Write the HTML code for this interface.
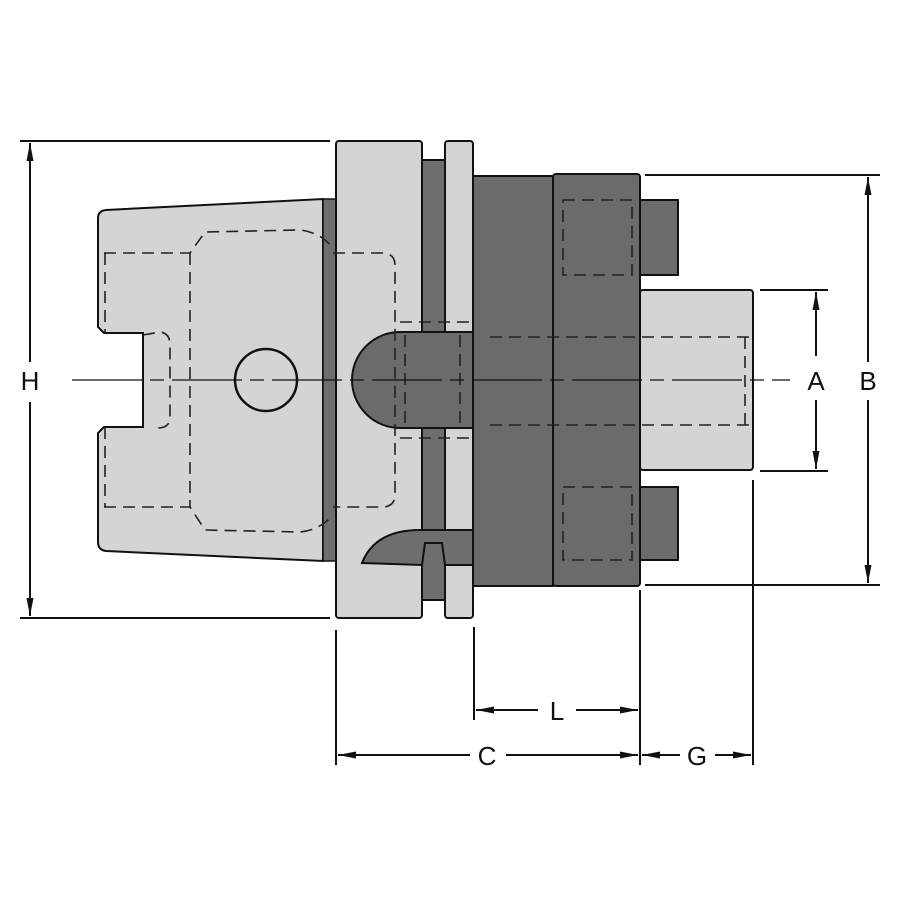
<!DOCTYPE html>
<html><head><meta charset="utf-8"><style>
html,body{margin:0;padding:0;background:#fff}
svg{display:block}
text{font-family:"Liberation Sans",sans-serif;font-size:26px;fill:#111}
</style></head><body>
<svg width="900" height="900" viewBox="0 0 900 900" xmlns="http://www.w3.org/2000/svg">
<defs>
<marker id="ar" markerWidth="18" markerHeight="8" refX="18" refY="4" orient="auto" markerUnits="userSpaceOnUse">
<path d="M0,0.5 L18,4 L0,7.5 Z" fill="#111"/></marker>
</defs>
<g stroke="#111" stroke-width="2">
<path d="M106,210 L323,199 L323,561 L106,551 Q98,550 98,542 L98,433 L104,427 L143,427 L143,333 L104,333 L98,327 L98,218 Q98,211 106,210 Z" fill="#d4d4d4"/>
<rect x="323" y="199" width="13" height="362" fill="#6e6e6e" stroke-width="1.5"/>
<rect x="336" y="141" width="86" height="477" rx="3" fill="#d4d4d4"/>
<rect x="422" y="160" width="24" height="440" fill="#6e6e6e"/>
<rect x="445" y="141" width="28" height="477" rx="3" fill="#d4d4d4"/>
<path d="M362,563 Q375,530 420,530 L473,530 L473,565 L445,565 L442,543 L425,543 L422,565 Z" fill="#6e6e6e"/>
<rect x="473" y="176" width="80" height="410" fill="#6b6b6b"/>
<rect x="553" y="174" width="87" height="412" rx="3" fill="#6b6b6b"/>
<rect x="640" y="200" width="38" height="75" fill="#6b6b6b"/>
<rect x="640" y="487" width="38" height="73" fill="#6b6b6b"/>
<rect x="640" y="290" width="113" height="180" rx="3" fill="#d4d4d4"/>
<path d="M400,332 L473,332 L473,428 L400,428 A48,48 0 0 1 400,332 Z" fill="#6b6b6b"/>
<circle cx="266" cy="380" r="31" fill="none" stroke-width="2.5"/>
</g>
<g stroke="#222" stroke-width="1.6" fill="none" stroke-dasharray="12,7">
<path d="M104,253 L190,253 L205,232 L300,230 Q320,232 333,248"/>
<path d="M104,507 L190,507 L205,530 L300,532 Q320,530 333,515"/>
<path d="M190,253 L190,507"/>
<path d="M105,253 L105,333 M105,427 L105,507"/>
<path d="M143,335 L160,332 Q170,333 170,345 L170,420 Q168,428 158,428"/>
<path d="M333,253 L385,253 Q395,255 395,265 L395,495 Q395,505 385,507 L333,507"/>
<path d="M400,322 L470,322 M400,438 L470,438"/>
<path d="M490,337 L752,337 M490,425 L752,425"/>
<path d="M745,337 L745,425"/>
<path d="M563,200 L632,200 L632,275 L563,275 Z"/>
<path d="M563,487 L632,487 L632,560 L563,560 Z"/>
<path d="M405,335 L405,425 M460,335 L460,425"/>
</g>
<line x1="72" y1="380" x2="790" y2="380" stroke="#111" stroke-width="1.2" stroke-dasharray="70,8,14,8"/>
<g stroke="#111" stroke-width="2" fill="none">
<line x1="20" y1="141" x2="330" y2="141"/>
<line x1="20" y1="618" x2="330" y2="618"/>
<line x1="30" y1="362" x2="30" y2="143" marker-end="url(#ar)"/>
<line x1="30" y1="402" x2="30" y2="616" marker-end="url(#ar)"/>
<line x1="645" y1="175" x2="880" y2="175"/>
<line x1="645" y1="585" x2="880" y2="585"/>
<line x1="868" y1="362" x2="868" y2="177" marker-end="url(#ar)"/>
<line x1="868" y1="400" x2="868" y2="583" marker-end="url(#ar)"/>
<line x1="760" y1="290" x2="828" y2="290"/>
<line x1="760" y1="471" x2="828" y2="471"/>
<line x1="816" y1="356" x2="816" y2="292" marker-end="url(#ar)"/>
<line x1="816" y1="400" x2="816" y2="469" marker-end="url(#ar)"/>
<line x1="336" y1="630" x2="336" y2="765"/>
<line x1="474" y1="627" x2="474" y2="720"/>
<line x1="640" y1="590" x2="640" y2="765"/>
<line x1="753" y1="480" x2="753" y2="765"/>
<line x1="538" y1="710" x2="476" y2="710" marker-end="url(#ar)"/>
<line x1="576" y1="710" x2="638" y2="710" marker-end="url(#ar)"/>
<line x1="470" y1="755" x2="338" y2="755" marker-end="url(#ar)"/>
<line x1="506" y1="755" x2="638" y2="755" marker-end="url(#ar)"/>
<line x1="680" y1="755" x2="642" y2="755" marker-end="url(#ar)"/>
<line x1="715" y1="755" x2="751" y2="755" marker-end="url(#ar)"/>
</g>
<text x="30" y="390" text-anchor="middle">H</text>
<text x="868" y="390" text-anchor="middle">B</text>
<text x="816" y="390" text-anchor="middle">A</text>
<text x="557" y="720" text-anchor="middle">L</text>
<text x="487" y="765" text-anchor="middle">C</text>
<text x="697" y="765" text-anchor="middle">G</text>
</svg>
</body></html>
